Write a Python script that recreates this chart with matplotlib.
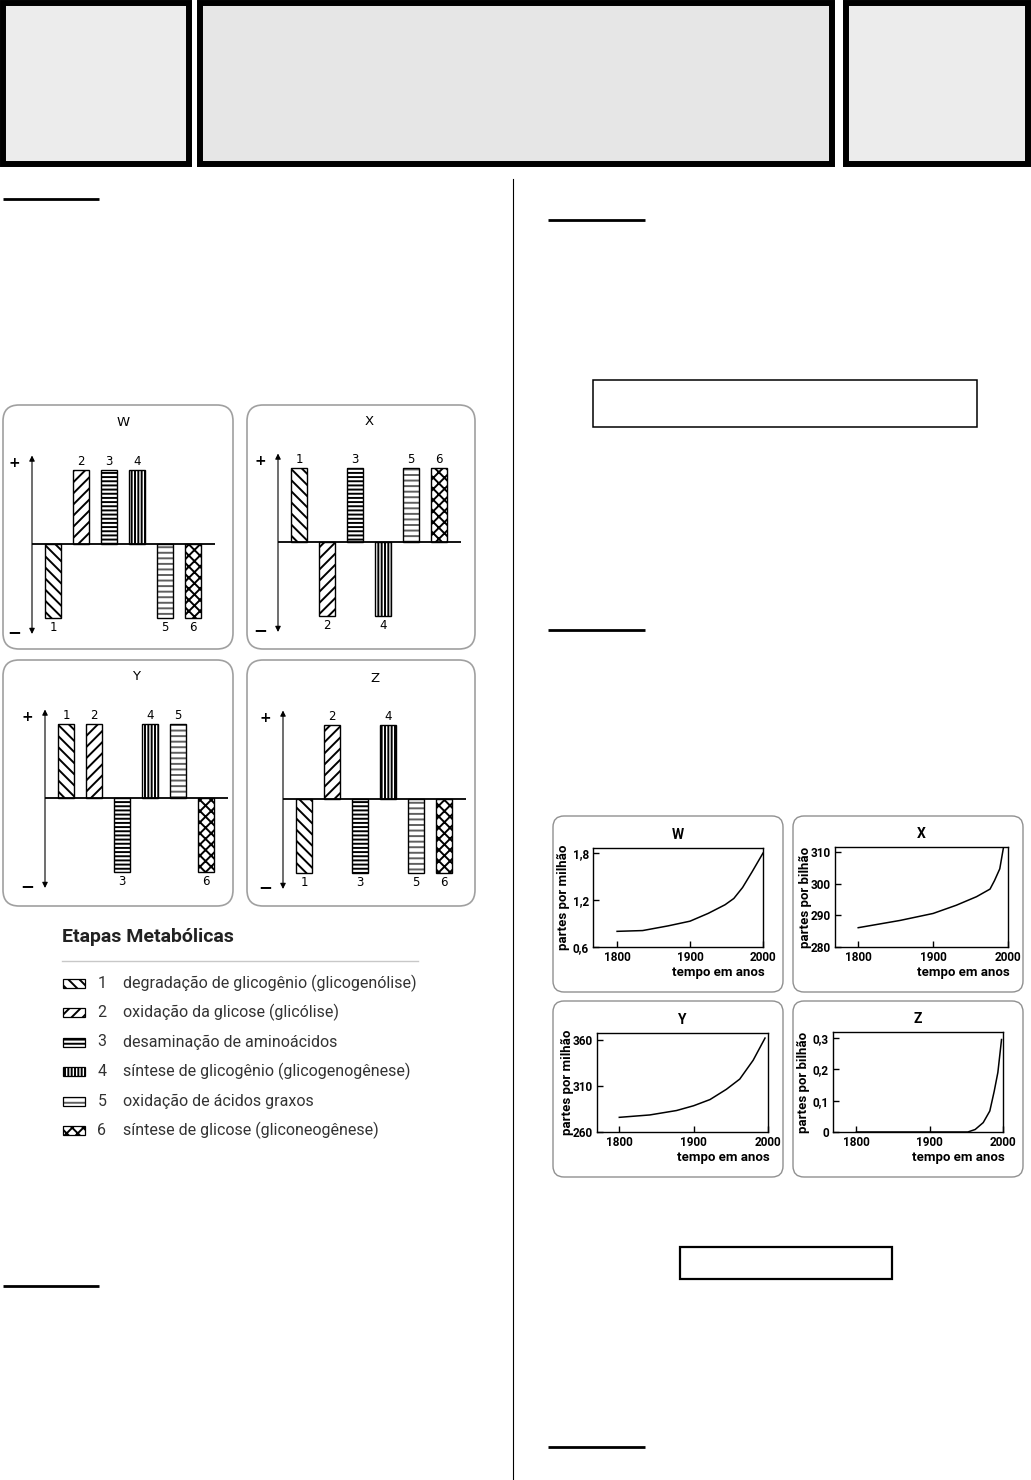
import numpy as np
import matplotlib.pyplot as plt
from matplotlib.patches import Rectangle, FancyBboxPatch

plt.rcParams['hatch.linewidth'] = 1.4

# ---------------------------------------------------------------------------
# Data
# ---------------------------------------------------------------------------
STEPS = [1, 2, 3, 4, 5, 6]
STEP_NAMES = ['degradação de glicogênio (glicogenólise)',
              'oxidação da glicose (glicólise)',
              'desaminação de aminoácidos',
              'síntese de glicogênio (glicogenogênese)',
              'oxidação de ácidos graxos',
              'síntese de glicose (gliconeogênese)']
LEGEND_TITLE = 'Etapas Metabólicas'

# +1 = activated, -1 = inhibited
SIGNS_W = [-1, 1, 1, 1, -1, -1]
SIGNS_X = [1, -1, 1, -1, 1, 1]
SIGNS_Y = [1, 1, -1, 1, 1, -1]
SIGNS_Z = [-1, 1, -1, 1, -1, -1]

YEAR_TICKS = [1800, 1900, 2000]

YEAR_W = [1800, 1835, 1870, 1900, 1925, 1948, 1960, 1972, 1985, 2000]
CONC_W = [0.80, 0.81, 0.87, 0.93, 1.03, 1.14, 1.22, 1.36, 1.56, 1.80]
TICKS_W = [0.6, 1.2, 1.8]
LABELS_W = ['0,6', '1,2', '1,8']

YEAR_X = [1800, 1856, 1900, 1931, 1958, 1976, 1982, 1989, 1994]
CONC_X = [286.1, 288.4, 290.6, 293.2, 295.9, 298.3, 301.0, 304.7, 311.5]
TICKS_X = [280, 290, 300, 310]
LABELS_X = ['280', '290', '300', '310']

YEAR_Y = [1800, 1841, 1877, 1900, 1922, 1944, 1962, 1980, 1996]
CONC_Y = [275.9, 278.5, 283.3, 288.5, 295.2, 306.3, 317.4, 337.8, 361.9]
TICKS_Y = [260, 310, 360]
LABELS_Y = ['260', '310', '360']

YEAR_Z = [1800, 1952, 1962, 1973, 1982, 1988, 1993, 1998]
CONC_Z = [0.0, 0.0, 0.008, 0.03, 0.067, 0.13, 0.19, 0.295]
TICKS_Z = [0, 0.1, 0.2, 0.3]
LABELS_Z = ['0', '0,1', '0,2', '0,3']

HATCHES = ['\\\\\\', '///', '----', '|||||', '---', 'xxx']

# ---------------------------------------------------------------------------
# Page
# ---------------------------------------------------------------------------
W_PX, H_PX = 1031, 1480
fig = plt.figure(figsize=(W_PX / 100, H_PX / 100), dpi=100)


def frac(x0, y0, x1, y1):
    return [x0 / W_PX, 1 - y1 / H_PX, (x1 - x0) / W_PX, (y1 - y0) / H_PX]


page = fig.add_axes([0, 0, 1, 1])
page.set_xlim(0, W_PX)
page.set_ylim(H_PX, 0)
page.axis('off')

# header boxes
for x0, x1, fc in [(3, 189, '#ececec'), (200, 832, '#e6e6e6'), (846, 1028, '#ececec')]:
    page.add_patch(Rectangle((x0, 3), x1 - x0, 161, facecolor=fc,
                             edgecolor='black', lw=4.3))

# column divider and underlines
page.plot([513, 513], [179, 1480], color='black', lw=0.8)
for x0, x1, y in [(3, 99, 199), (548, 645, 220), (548, 645, 630),
                  (3, 99, 1286), (548, 645, 1447)]:
    page.plot([x0, x1], [y, y], color='black', lw=2.0, solid_capstyle='butt')

page.add_patch(Rectangle((593, 380), 384, 47, fill=False, edgecolor='black', lw=1.1))
page.add_patch(Rectangle((680, 1247), 212, 32, fill=False, edgecolor='black', lw=1.6))

# rounded frames
for x0, y0, x1, y1 in [(3, 405, 233, 649), (247, 405, 475, 649),
                       (3, 660, 233, 906), (247, 660, 475, 906)]:
    page.add_patch(FancyBboxPatch((x0, y0), x1 - x0, y1 - y0,
                                  boxstyle='round,pad=0,rounding_size=16',
                                  facecolor='white', edgecolor='#a0a0a0', lw=1.2))
for x0, y0, x1, y1 in [(553, 816, 783, 992), (793, 816, 1023, 992),
                       (553, 1001, 783, 1177), (793, 1001, 1023, 1177)]:
    page.add_patch(FancyBboxPatch((x0, y0), x1 - x0, y1 - y0,
                                  boxstyle='round,pad=0,rounding_size=11',
                                  facecolor='white', edgecolor='#909090', lw=1.0))


# ---------------------------------------------------------------------------
# Bar panels (metabolic steps)
# ---------------------------------------------------------------------------
def bar_panel(x_arrow, y_base, signs, letter):
    ax = fig.add_axes(frac(x_arrow, y_base - 90, x_arrow + 183, y_base + 90))
    ax.set_xlim(0.25, 6.79)
    ax.set_ylim(-1.22, 1.22)
    ax.axis('off')
    for s, v, h in zip(STEPS, signs, HATCHES):
        hc = '#606060' if s == 5 else 'black'
        ax.bar(s, v, width=0.55, color='white', edgecolor=hc, hatch=h, lw=0)
        ax.bar(s, v, width=0.55, fill=False, edgecolor='black', lw=1.0)
        off = 6.5 if v > 0 else -7
        ax.annotate(str(s), (s, v), xytext=(0, off), textcoords='offset points',
                    ha='center', va='center', fontsize=8.5)
    ax.axhline(0, color='black', lw=1.3)
    ax.annotate('', xy=(0.25, 1.2), xytext=(0.25, -1.22), annotation_clip=False,
                arrowprops=dict(arrowstyle='<|-|>', color='black', lw=0.8,
                                shrinkA=0, shrinkB=0, mutation_scale=8))
    ax.text(-0.39, 1.10, '+', ha='center', va='center', fontsize=10,
            fontweight='bold', clip_on=False)
    ax.text(-0.39, -1.19, '−', ha='center', va='center', fontsize=12,
            fontweight='bold', clip_on=False)
    ax.text(0.5, 1.0 + 31 / 180, letter, transform=ax.transAxes, ha='center',
            va='center', fontsize=9.5)


bar_panel(32, 544, SIGNS_W, 'W')
bar_panel(278, 542, SIGNS_X, 'X')
bar_panel(45, 798, SIGNS_Y, 'Y')
bar_panel(283, 799, SIGNS_Z, 'Z')

# legend
page.text(62, 937, LEGEND_TITLE, fontsize=14, fontweight='bold', color='#222222',
          va='center', ha='left', family='Roboto')
page.plot([62, 418], [961, 961], color='#c8c8c8', lw=1.0)
for i, (s, name, h) in enumerate(zip(STEPS, STEP_NAMES, HATCHES)):
    y = 983 + 29.5 * i
    hc = '#606060' if s == 5 else 'black'
    page.add_patch(Rectangle((63, y - 4.5), 22, 9, facecolor='white', edgecolor=hc,
                             hatch=h, lw=0))
    page.add_patch(Rectangle((63, y - 4.5), 22, 9, fill=False, edgecolor='black', lw=0.9))
    page.text(102, y, str(s), fontsize=11.5, color='#333333', va='center', ha='center',
              family='Roboto')
    page.text(123, y, name, fontsize=11.5, color='#333333', va='center', ha='left',
              family='Roboto')


# ---------------------------------------------------------------------------
# Line panels (concentration vs time)
# ---------------------------------------------------------------------------
NARROW = ['Roboto', 'DejaVu Sans']


def line_panel(rect, years, conc, ticks, labels, ylim, xlim, ylabel, letter):
    x0, y0, x1, y1 = rect
    ax = fig.add_axes(frac(x0, y0, x1, y1))
    ax.plot(years, conc, color='black', lw=1.1)
    ax.set_xlim(*xlim)
    ax.set_ylim(*ylim)
    ax.set_xticks(YEAR_TICKS)
    ax.set_xticklabels([str(t) for t in YEAR_TICKS])
    ax.set_yticks(ticks)
    ax.set_yticklabels(labels)
    ax.tick_params(direction='in', length=4, width=1.0, pad=3)
    for lab in ax.get_xticklabels() + ax.get_yticklabels():
        lab.set_family(NARROW)
        lab.set_fontweight('bold')
        lab.set_fontsize(8.5)
    for sp in ax.spines.values():
        sp.set_linewidth(1.0)
    w = x1 - x0
    h = y1 - y0
    ax.text(-30 / w, 0.5, ylabel, transform=ax.transAxes, rotation=90,
            ha='center', va='center', fontsize=9.5, fontweight='bold', family=NARROW)
    ax.text(1.01, -26 / h, 'tempo em anos', transform=ax.transAxes, ha='right',
            va='center', fontsize=9.5, fontweight='bold', family=NARROW)
    ax.text(0.5, 1 + 13 / h, letter, transform=ax.transAxes, ha='center',
            va='center', fontsize=10, fontweight='bold', family=NARROW)


line_panel((593, 848, 763, 947), YEAR_W, CONC_W, TICKS_W, LABELS_W,
           (0.6, 1.865), (1767, 2000), 'partes por milhão', 'W')
line_panel((835, 847, 1008, 947), YEAR_X, CONC_X, TICKS_X, LABELS_X,
           (280, 311.6), (1769, 2000), 'partes por bilhão', 'X')
line_panel((597, 1033, 768, 1132), YEAR_Y, CONC_Y, TICKS_Y, LABELS_Y,
           (260, 367.4), (1770, 2000), 'partes por milhão', 'Y')
line_panel((833, 1032, 1003, 1132), YEAR_Z, CONC_Z, TICKS_Z, LABELS_Z,
           (0, 0.319), (1768, 2000), 'partes por bilhão', 'Z')

fig.savefig('out.png', dpi=100)
